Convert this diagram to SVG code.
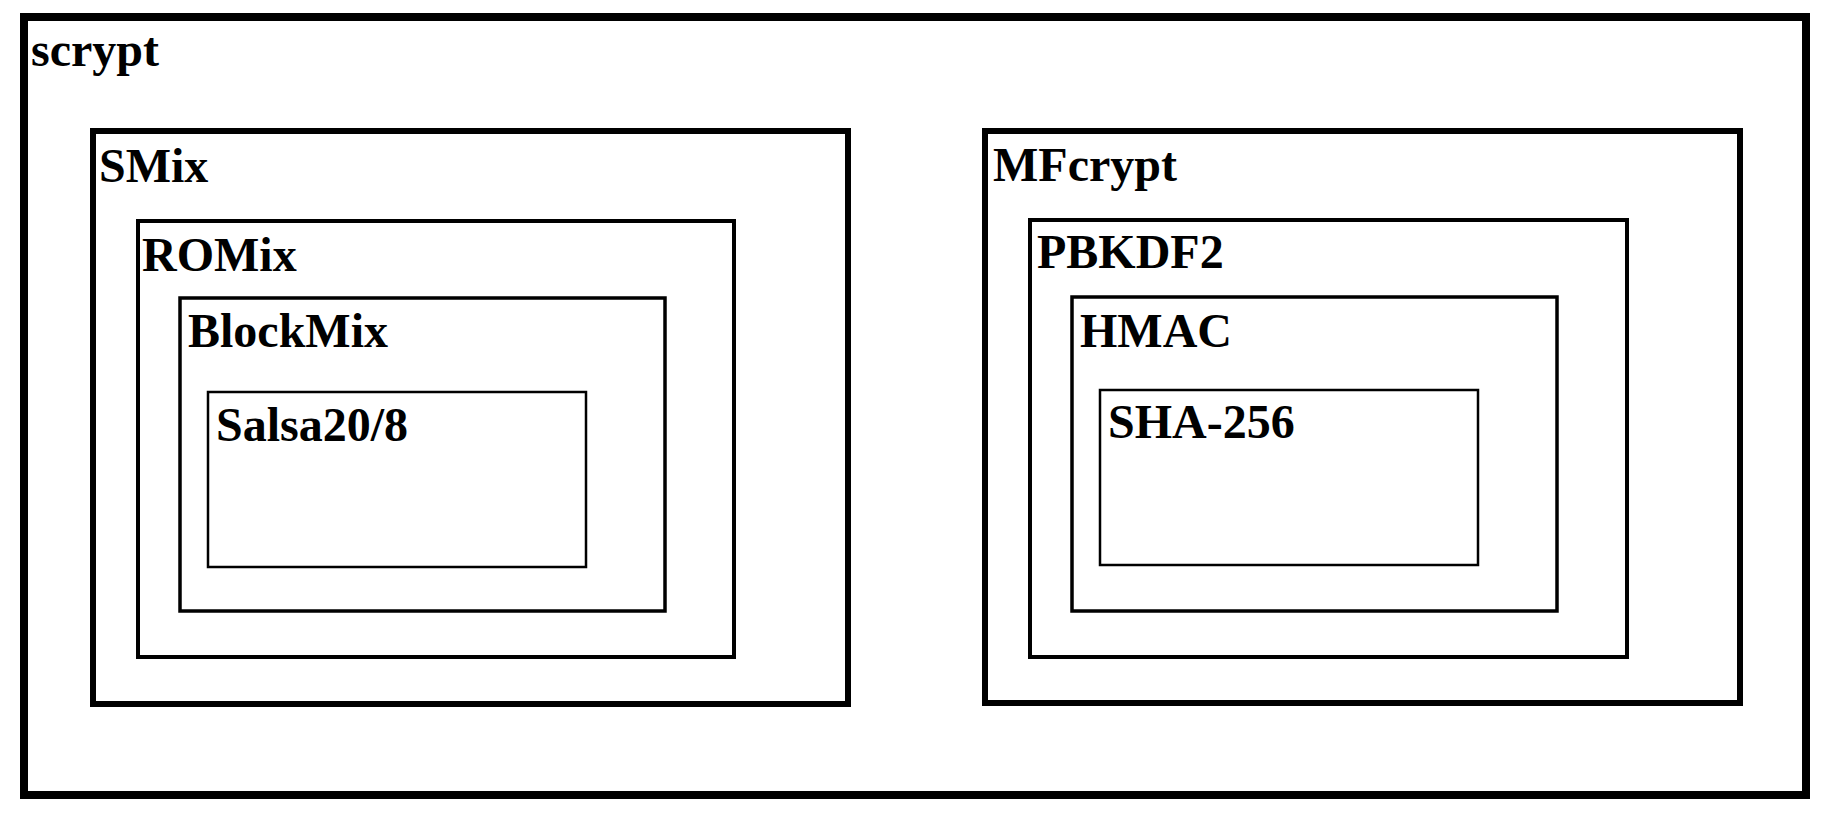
<svg xmlns="http://www.w3.org/2000/svg" width="1828" height="816" viewBox="0 0 1828 816">
  <style>
    rect { fill: none; stroke: #000; }
    text { font-family: "Liberation Serif", "Times New Roman", serif; font-weight: bold; font-size: 48px; fill: #000; }
    .l0 { stroke-width: 8; }
    .l1 { stroke-width: 6; }
    .l2 { stroke-width: 4; }
    .l3 { stroke-width: 3.5; }
    .l4 { stroke-width: 2.5; }
  </style>
  <rect x="0" y="0" width="1828" height="816" style="fill:#fff;stroke:none"/>
  <g id="scrypt">
    <rect class="l0" x="24" y="17" width="1782" height="778"/>
    <text x="31" y="66">scrypt</text>
  </g>
  <g id="smix">
    <rect class="l1" x="93" y="131" width="755" height="573"/>
    <text x="99" y="182">SMix</text>
  </g>
  <g id="romix">
    <rect class="l2" x="138" y="221" width="596" height="436"/>
    <text x="142" y="271">ROMix</text>
  </g>
  <g id="blockmix">
    <rect class="l3" x="180" y="298" width="485" height="313"/>
    <text x="188" y="347">BlockMix</text>
  </g>
  <g id="salsa">
    <rect class="l4" x="208" y="392" width="378" height="175"/>
    <text x="216" y="441">Salsa20/8</text>
  </g>
  <g id="mfcrypt">
    <rect class="l1" x="985" y="131" width="755" height="572"/>
    <text x="993" y="181">MFcrypt</text>
  </g>
  <g id="pbkdf2">
    <rect class="l2" x="1030" y="220" width="597" height="437"/>
    <text x="1037" y="268">PBKDF2</text>
  </g>
  <g id="hmac">
    <rect class="l3" x="1072" y="297" width="485" height="314"/>
    <text x="1080" y="347">HMAC</text>
  </g>
  <g id="sha256">
    <rect class="l4" x="1100" y="390" width="378" height="175"/>
    <text x="1108" y="438">SHA-256</text>
  </g>
  <g id="connectors"></g>
</svg>
